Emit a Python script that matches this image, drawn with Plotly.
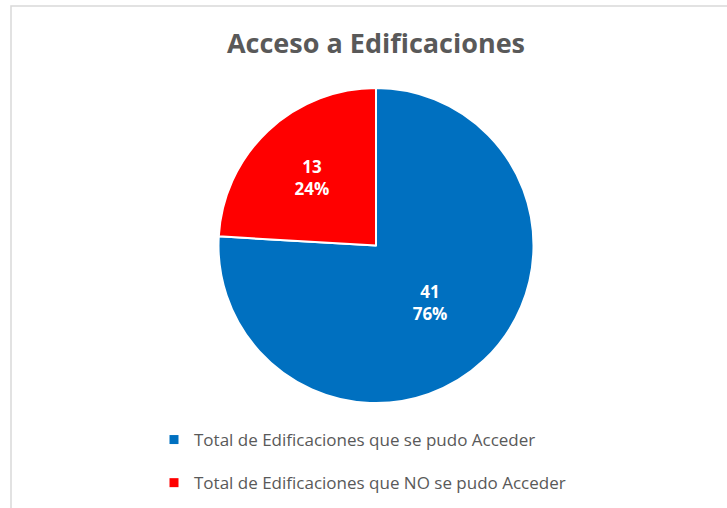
import plotly.graph_objects as go

labels = ["Total de Edificaciones que se pudo Acceder", "Total de Edificaciones que NO se pudo Acceder"]
values = [41, 13]
colors = ["#0070C0", "#FF0000"]
title = "Acceso a Edificaciones"

W, H = 727, 508
fig = go.Figure()
fig.add_trace(go.Pie(
    labels=labels, values=values, sort=False, direction="clockwise", rotation=0,
    marker=dict(colors=colors, line=dict(color="white", width=2)),
    texttemplate="<b>%{value}<br>%{percent:.0%}</b>", textposition="inside",
    insidetextorientation="horizontal",
    textfont=dict(color="white", size=17, family="Open Sans"),
    showlegend=False,
    domain=dict(x=[(376-158)/W, (376+158)/W], y=[1-403/H, 1-88/H]),
))
for i, (lab, col) in enumerate(zip(labels, colors)):
    fig.add_trace(go.Scatter(x=[None], y=[None], mode="markers", name=lab,
                             legendgroup=f"g{i}",
                             marker=dict(symbol="square", size=9, color=col)))
fig.update_layout(
    width=W, height=H, margin=dict(l=0, r=0, t=0, b=0),
    paper_bgcolor="white", plot_bgcolor="white",
    xaxis=dict(visible=False), yaxis=dict(visible=False),
    title=dict(text="<b>" + title + "</b>", x=376/W, xanchor="center", y=1-44/H, yanchor="middle",
               font=dict(size=27, color="#595959", family="Open Sans")),
    legend=dict(x=154/W, y=1-422/H, xanchor="left", yanchor="top", tracegroupgap=18,
                font=dict(size=17, color="#595959", family="Open Sans"), bgcolor="rgba(0,0,0,0)"),
    shapes=[dict(type="rect", xref="paper", yref="paper", x0=11/W, x1=1.02, y0=-0.02, y1=1-6/H,
                 line=dict(color="#D9D9D9", width=1.5))],
)
fig.write_html("out.html", config={"displayModeBar": False},
               post_script="document.body.style.margin='0';")
